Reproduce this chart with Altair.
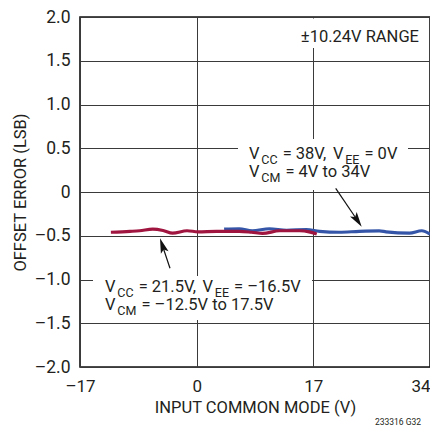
import math
import altair as alt
import pandas as pd

# ---------------- data ----------------
x_ticks = [-17, 0, 17, 34]
y_ticks = [-2.0, -1.5, -1.0, -0.5, 0.0, 0.5, 1.0, 1.5, 2.0]

# Vcc = 21.5V, Vee = -16.5V  (dark red)
red_x = [-12.5, -9.7, -8.3, -6.4, -4.9, -3.5, -1.4, 0.2, 2.9, 6.2, 8.0, 9.6, 12.1, 15.0, 16.4, 17.5]
red_y = [-0.46, -0.45, -0.443, -0.425, -0.44, -0.47, -0.443, -0.455, -0.45, -0.45, -0.46, -0.473,
         -0.443, -0.443, -0.455, -0.48]

# Vcc = 38V, Vee = 0V  (blue)
blue_x = [4.0, 6.2, 8.1, 10.6, 13.1, 16.0, 17.9, 20.8, 23.7, 26.6, 27.6, 31.0, 32.8, 34.0]
blue_y = [-0.425, -0.42, -0.443, -0.42, -0.437, -0.43, -0.45, -0.46, -0.45, -0.445, -0.455, -0.47,
          -0.443, -0.48]

X_DOMAIN = [-17, 34]
Y_DOMAIN = [-2.0, 2.0]

# annotation lines: list of (text, is_subscript) runs
ann_upper = [
    [("V", False), ("CC", True), (" = 38V,", False), (" V", False), ("EE", True), (" = 0V", False)],
    [("V", False), ("CM", True), (" = 4V to 34V", False)],
]
ann_lower = [
    [("V", False), ("CC", True), (" = 21.5V,", False), (" V", False), ("EE", True), (" = \u201316.5V", False)],
    [("V", False), ("CM", True), (" = \u201312.5V to 17.5V", False)],
]

# ---------------- layout ----------------
W, H = 350, 350
LEFT, TOP = 80, 17          # page position of the plot area
FONT = "Roboto"
RED = "#A01540"
BLUE = "#3556A8"
INK = "#231f20"
MAIN_FS, SUB_FS, SUB_DROP, SUB_GAP = 16.5, 12.5, 5, 1.0

# approximate Roboto advance widths (em)
ADV = {" ": 0.248, "=": 0.549, "V": 0.652, "C": 0.652, "E": 0.568, "M": 0.873, ",": 0.196,
       ".": 0.263, "\u2013": 0.55, "t": 0.327, "o": 0.571}


def text_w(s, fs):
    return sum(ADV.get(ch, 0.5615) for ch in s) * fs


def px2x(px):
    return X_DOMAIN[0] + (px - LEFT) * (X_DOMAIN[1] - X_DOMAIN[0]) / W


def px2y(py):
    return Y_DOMAIN[1] - (py - TOP) * (Y_DOMAIN[1] - Y_DOMAIN[0]) / H


xs = alt.Scale(domain=X_DOMAIN, nice=False, zero=False)
ys = alt.Scale(domain=Y_DOMAIN, nice=False, zero=False)
x_axis = alt.Axis(values=x_ticks, title="INPUT COMMON MODE (V)",
                  labelExpr="replace(format(datum.value, 'd'), /[-\u2212]/, '\u2013')",
                  labelPadding=11, titlePadding=5, labelFontSize=17,
                  labelAlign=alt.ConditionalAxisLabelAlign(
                      condition={"test": "datum.value == 34", "value": "right"}, value="center"))
y_axis = alt.Axis(values=y_ticks, title="OFFSET ERROR (LSB)",
                  labelExpr="datum.value == 0 ? '0' : replace(format(datum.value, '.1f'), /[-\u2212]/, '\u2013')",
                  labelPadding=10, titlePadding=6, labelFontSize=17.5)


def X(field="x"):
    return alt.X(f"{field}:Q", scale=xs, axis=x_axis)


def Y(field="y"):
    return alt.Y(f"{field}:Q", scale=ys, axis=y_axis)


red_df = pd.DataFrame({"x": red_x, "y": red_y})
blue_df = pd.DataFrame({"x": blue_x, "y": blue_y})

blue_line = alt.Chart(blue_df).mark_line(color=BLUE, strokeWidth=3.2, interpolate="monotone").encode(x=X(), y=Y())
red_line = alt.Chart(red_df).mark_line(color=RED, strokeWidth=3.2, interpolate="monotone").encode(x=X(), y=Y())

# white boxes behind the annotations (hide grid lines)
box_x1 = [px2x(298), px2x(238), px2x(93)]
box_x2 = [px2x(429), px2x(408), px2x(312)]
box_y1 = [px2y(18.5), px2y(139), px2y(276)]
box_y2 = [px2y(48), px2y(190), px2y(320)]
boxes_df = pd.DataFrame({"x": box_x1, "x2": box_x2, "y": box_y1, "y2": box_y2})
boxes = alt.Chart(boxes_df).mark_rect(fill="white", stroke=None).encode(
    x=X(), x2="x2:Q", y=Y(), y2="y2:Q")

# lay out annotation runs one after the other
rows = []
for lines, x0, baselines in [(ann_upper, 249, [158.5, 177]), (ann_lower, 105, [291.7, 310.2])]:
    for runs, base in zip(lines, baselines):
        cx = x0
        for txt, sub in runs:
            fs = SUB_FS if sub else MAIN_FS
            lead = len(txt) - len(txt.lstrip(" "))
            start = cx + text_w(txt[:lead], fs) + (SUB_GAP if sub else 0)
            rows.append({"t": txt.strip(), "x": px2x(start),
                         "y": px2y(base + (SUB_DROP if sub else 0)), "sub": sub})
            cx += text_w(txt, fs) + (2 * SUB_GAP if sub else 0.5)
seg_df = pd.DataFrame(rows)

main_text = alt.Chart(seg_df[~seg_df["sub"]]).mark_text(
    align="left", baseline="alphabetic", font=FONT, fontSize=MAIN_FS, color=INK).encode(
    x=X(), y=Y(), text="t:N")
sub_text = alt.Chart(seg_df[seg_df["sub"]]).mark_text(
    align="left", baseline="alphabetic", font=FONT, fontSize=SUB_FS, color=INK).encode(
    x=X(), y=Y(), text="t:N")

range_df = pd.DataFrame({"t": ["\u00b110.24V RANGE"], "x": [px2x(419)], "y": [px2y(41.7)]})
range_text = alt.Chart(range_df).mark_text(
    align="right", baseline="alphabetic", font=FONT, fontSize=16.5, color=INK).encode(
    x=X(), y=Y(), text="t:N")

note_df = pd.DataFrame({"t": ["233316 G32"], "x": [px2x(421)], "y": [px2y(425)]})
note_text = alt.Chart(note_df).mark_text(
    align="right", baseline="alphabetic", font=FONT, fontSize=8.5, color=INK).encode(
    x=X(), y=Y(), text="t:N")

# arrows (page pixel start -> tip)
arrows = [((335.7, 188.3), (361.7, 226.7)), ((170.0, 268.3), (160.0, 238.3))]
HEAD = 260
half = math.sqrt(HEAD) / 2
ar_x, ar_y, ar_x2, ar_y2, hd_x, hd_y, hd_a = [], [], [], [], [], [], []
for (sx, sy), (tx, ty) in arrows:
    dx, dy = tx - sx, ty - sy
    L = math.hypot(dx, dy)
    ux, uy = dx / L, dy / L
    cx, cy = tx - ux * half, ty - uy * half
    ar_x.append(px2x(sx)); ar_y.append(px2y(sy))
    ar_x2.append(px2x(cx)); ar_y2.append(px2y(cy))
    hd_x.append(px2x(cx)); hd_y.append(px2y(cy))
    hd_a.append(math.degrees(math.atan2(ux, -uy)) % 360)

arrow_df = pd.DataFrame({"x": ar_x, "y": ar_y, "x2": ar_x2, "y2": ar_y2})
head_df = pd.DataFrame({"x": hd_x, "y": hd_y, "a": hd_a})
arrow_lines = alt.Chart(arrow_df).mark_rule(color="#111", strokeWidth=1.2).encode(
    x=X(), y=Y(), x2="x2:Q", y2="y2:Q")
arrow_heads = alt.Chart(head_df).mark_point(
    shape="M0,-1L0.5,0.85L0,0.45L-0.5,0.85Z", filled=True, color="#111", size=HEAD, opacity=1).encode(
    x=X(), y=Y(), angle=alt.Angle("a:Q", scale=None))

chart = alt.layer(
    blue_line, red_line, boxes, main_text, sub_text, range_text, note_text, arrow_lines, arrow_heads
).properties(
    width=W, height=H,
    autosize=alt.AutoSizeParams(type="none"),
    padding={"left": LEFT - 8, "top": TOP - 8, "right": 0, "bottom": 61},
).configure_view(
    stroke="#111", strokeWidth=1.6
).configure_axis(
    grid=True, gridColor="#3a3a3a", gridWidth=1, domain=False, ticks=False,
    labelFont=FONT, titleFont=FONT, titleFontSize=16.5,
    labelColor=INK, titleColor=INK, titleFontWeight="normal"
)

chart.save("out.html", embed_options={"renderer": "svg", "actions": False})
